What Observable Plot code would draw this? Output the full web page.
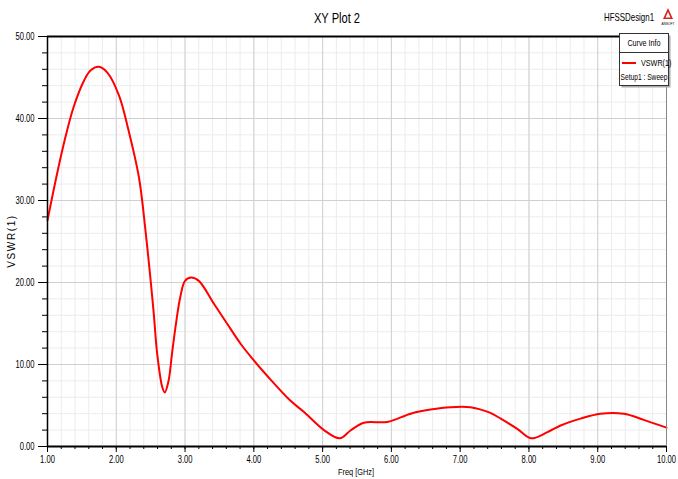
<!DOCTYPE html>
<html><head><meta charset="utf-8">
<script src="https://cdn.jsdelivr.net/npm/d3@7"></script>
<script src="https://cdn.jsdelivr.net/npm/@observablehq/plot@0.6"></script>
<style>body{margin:0;background:#fff} #chart{width:678px;height:479px}</style>
</head><body><div id="chart"></div>
<script>
const freq = [1.00,1.14,1.26,1.38,1.53,1.625,1.746,1.87,2.04,2.18,2.33,2.425,2.50,2.545,2.595,2.67,2.706,2.76,2.81,2.86,2.93,3.00,3.09,3.20,3.42,3.61,3.81,4.00,4.19,4.53,4.73,5.02,5.25,5.405,5.60,5.94,6.28,6.57,6.86,7.15,7.30,7.44,7.59,7.83,8.03,8.27,8.46,8.75,9.04,9.38,9.67,10.0];
const vswr = [27.6,33.3,37.7,41.4,44.6,45.85,46.3,45.6,42.8,38.5,32.8,26.3,20.2,16.2,11.3,7.2,6.6,8.0,11.3,14.5,18.2,20.2,20.6,20.2,17.4,15.0,12.5,10.5,8.66,5.6,4.2,2.0,1.0,1.95,2.9,3.0,4.0,4.5,4.8,4.8,4.5,4.1,3.4,2.15,1.0,1.75,2.56,3.4,4.0,4.0,3.25,2.3];
const xMajor = [1,2,3,4,5,6,7,8,9,10];
const yMajor = [0,10,20,30,40,50];
const xMinor = d3.range(0,46).map(i => +(1 + i*0.2).toFixed(2));
const yMinor = d3.range(0,26).map(i => i*2);
const data = freq.map((f,i) => ({f, v: vswr[i]}));
const fontF = "Liberation Sans, Arial, sans-serif";

const chart = Plot.plot({
  width: 678, height: 479,
  marginLeft: 47, marginRight: 12, marginTop: 36, marginBottom: 33,
  style: {fontFamily: fontF, fontSize: "10px", background: "#fff", color: "#000", overflow: "visible"},
  x: {domain: [1,10]},
  y: {domain: [0,50]},
  marks: [
    Plot.ruleX(xMinor, {stroke: "#ececec"}),
    Plot.ruleY(yMinor, {stroke: "#ececec"}),
    Plot.ruleX(xMajor, {stroke: "#d0d0d0"}),
    Plot.ruleY(yMajor, {stroke: "#d0d0d0"}),
    Plot.line(data, {x: "f", y: "v", stroke: "#ff0000", strokeWidth: 2, curve: "catmull-rom"}),
    Plot.ruleX([10], {stroke: "#888"}),
    Plot.ruleY([0,50], {stroke: "#000", strokeWidth: 2}),
    Plot.ruleX([1], {stroke: "#000", strokeWidth: 1.5}),
    Plot.axisX(xMajor, {tickFormat: d => d.toFixed(2), tickSize: 6, tickPadding: 3, label: null, className: "lab"}),
    Plot.axisX(xMinor, {tickSize: 3, tickFormat: () => "", label: null}),
    Plot.axisY(yMajor, {tickFormat: d => d.toFixed(2), tickSize: 9, tickPadding: 4, label: null, className: "lab"}),
    Plot.axisY(yMinor, {tickSize: 5, tickFormat: () => "", label: null})
  ]
});
document.getElementById("chart").appendChild(chart);

const svg = d3.select(chart);
function squeeze(sel, k) {
  sel.each(function() {
    const L = this.getComputedTextLength();
    if (L > 0) { this.setAttribute("textLength", L*k); this.setAttribute("lengthAdjust", "spacingAndGlyphs"); }
  });
}
squeeze(svg.selectAll(".lab text"), 0.76);

const add = (x, y, txt, size, anchor, k) => {
  const t = svg.append("text").attr("x", x).attr("y", y).attr("font-family", fontF)
    .attr("font-size", size).attr("text-anchor", anchor).attr("fill", "#000").text(txt);
  if (k) squeeze(t, k);
  return t;
};
// title & design name
add(337, 23, "XY Plot 2", 15, "middle", 0.74);
add(629, 21, "HFSSDesign1", 11, "middle", 0.72);
// Ansoft logo
svg.append("path").attr("d", "M668,8 L673,19 L663,19 Z").attr("fill", "#d22");
svg.append("path").attr("d", "M668,12 L670.5,17.5 L665.5,17.5 Z").attr("fill", "#fff");
add(668, 25, "ANSOFT", 4, "middle", 0.8);
// axis labels
add(356, 475, "Freq [GHz]", 9, "middle", 0.82);
svg.append("text").attr("transform", "translate(15,241) rotate(-90)").attr("font-family", fontF)
  .attr("font-size", 10).attr("letter-spacing", 1.6).attr("text-anchor", "middle").text("VSWR(1)");
// legend box
svg.append("rect").attr("x", 621.5).attr("y", 35.5).attr("width", 49).attr("height", 52).attr("fill", "#aaa");
svg.append("rect").attr("x", 619.5).attr("y", 33.5).attr("width", 49).attr("height", 52).attr("fill", "#fff").attr("stroke", "#333");
add(644, 46, "Curve Info", 9, "middle", 0.8);
svg.append("line").attr("x1", 619.5).attr("x2", 668.5).attr("y1", 52.5).attr("y2", 52.5).attr("stroke", "#333");
svg.append("line").attr("x1", 622).attr("x2", 636).attr("y1", 63).attr("y2", 63).attr("stroke", "#ff0000").attr("stroke-width", 2);
add(641, 66, "VSWR(1)", 9, "start", 0.8);
add(644, 80, "Setup1 : Sweep", 9, "middle", 0.74);
</script></body></html>
